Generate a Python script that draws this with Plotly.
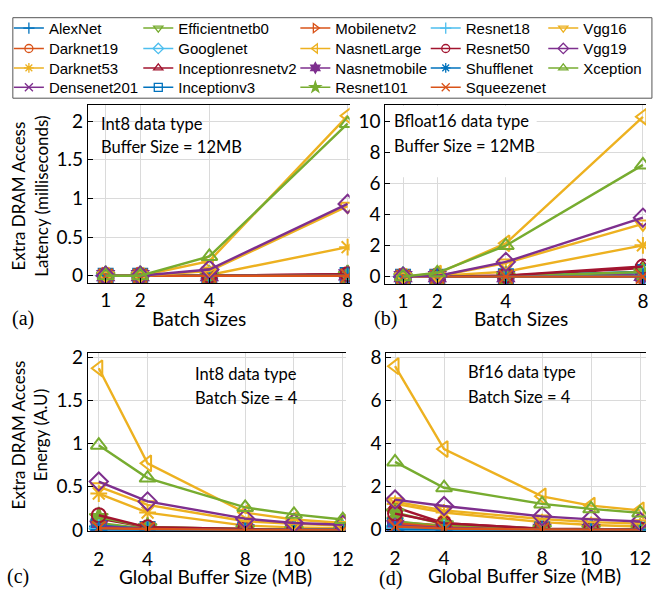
import plotly.graph_objects as go

W, H = 654, 598

models = ["AlexNet", "Darknet19", "Darknet53", "Densenet201", "Efficientnetb0", "Googlenet",
          "Inceptionresnetv2", "Inceptionv3", "Mobilenetv2", "NasnetLarge", "Nasnetmobile",
          "Resnet101", "Resnet18", "Resnet50", "Shufflenet", "Squeezenet", "Vgg16", "Vgg19", "Xception"]

colors = ["#0072BD", "#D95319", "#EDB120", "#7E2F8E", "#77AC30", "#4DBEEE", "#A2142F",
          "#0072BD", "#D95319", "#EDB120", "#7E2F8E", "#77AC30", "#4DBEEE", "#A2142F",
          "#0072BD", "#D95319", "#EDB120", "#7E2F8E", "#77AC30"]

symbols = ["cross-thin-open", "circle-open", "asterisk-open", "x-thin-open", "triangle-down-open",
           "diamond-open", "triangle-up-open", "square-open", "triangle-right-open", "triangle-left-open",
           "hexagram", "star", "cross-thin-open", "circle-open", "asterisk-open", "x-thin-open",
           "triangle-down-open", "diamond-open", "triangle-up-open"]

batch_sizes = [1, 2, 4, 8]
buffer_sizes = [2, 4, 8, 10, 12]

# (a) Int8 latency, buffer 12MB
lat_int8 = [
    [0, 0, 0, 0.01], [0, 0, 0, 0.01], [0, 0, 0.01, 0.37], [0, 0, 0, 0.01], [0, 0, 0, 0],
    [0, 0, 0, 0], [0, 0, 0, 0.02], [0, 0, 0, 0.01], [0, 0, 0, 0], [0, 0, 0.19, 2.07],
    [0, 0, 0, 0.01], [0, 0, 0, 0.01], [0, 0, 0, 0], [0, 0, 0, 0.02], [0, 0, 0, 0],
    [0, 0, 0, 0], [0, 0, 0.06, 0.9], [0, 0, 0.08, 0.93], [0, 0, 0.25, 1.97],
]
# (b) Bfloat16 latency, buffer 12MB
lat_bf16 = [
    [0, 0, 0.02, 0.3], [0, 0, 0.01, 0.1], [0, 0.05, 0.32, 2.02], [0, 0, 0.01, 0.1], [0, 0, 0, 0.05],
    [0, 0, 0, 0.05], [0, 0, 0.05, 0.55], [0, 0, 0.03, 0.3], [0, 0, 0, 0.02], [0, 0.2, 2.15, 10.3],
    [0, 0, 0.01, 0.08], [0, 0, 0.02, 0.3], [0, 0, 0, 0.02], [0, 0, 0.07, 0.65], [0, 0, 0, 0],
    [0, 0, 0, 0], [0, 0.03, 0.88, 3.4], [0, 0.04, 0.95, 3.8], [0, 0.25, 2.0, 7.2],
]
# (c) Int8 energy, batch 4
en_int8 = [
    [0.04, 0.01, 0, 0, 0], [0.06, 0.01, 0, 0, 0], [0.42, 0.2, 0.05, 0.03, 0.02], [0.05, 0.01, 0, 0, 0],
    [0.08, 0.01, 0, 0, 0], [0.02, 0, 0, 0, 0], [0.13, 0.03, 0.01, 0, 0], [0.05, 0.01, 0, 0, 0],
    [0.03, 0.01, 0, 0, 0], [1.87, 0.77, 0.2, 0.12, 0.08], [0.04, 0.01, 0, 0, 0], [0.15, 0.03, 0.01, 0, 0],
    [0.01, 0, 0, 0, 0], [0.17, 0.03, 0.01, 0, 0], [0, 0, 0, 0, 0], [0.02, 0.01, 0, 0, 0],
    [0.5, 0.29, 0.1, 0.07, 0.05], [0.56, 0.33, 0.13, 0.08, 0.06], [0.98, 0.6, 0.26, 0.18, 0.12],
]
# (d) Bf16 energy, batch 4
en_bf16 = [
    [0.15, 0.05, 0.01, 0, 0], [0.35, 0.2, 0.03, 0.01, 0], [1.2, 0.8, 0.35, 0.22, 0.15], [0.25, 0.08, 0.02, 0.01, 0],
    [0.4, 0.15, 0.02, 0.01, 0], [0.1, 0.03, 0, 0, 0], [1.05, 0.3, 0.05, 0.02, 0.01], [0.2, 0.06, 0.01, 0, 0],
    [0.3, 0.1, 0.01, 0, 0], [7.6, 3.75, 1.55, 1.12, 0.9], [0.2, 0.07, 0.01, 0, 0], [0.8, 0.25, 0.04, 0.02, 0.01],
    [0.05, 0.02, 0, 0, 0], [0.75, 0.3, 0.04, 0.02, 0.01], [0, 0, 0, 0, 0], [0.15, 0.05, 0.01, 0, 0],
    [1.3, 0.9, 0.5, 0.35, 0.28], [1.4, 1.1, 0.62, 0.48, 0.38], [3.15, 1.95, 1.2, 0.97, 0.78],
]

fig = go.Figure()

panels = [
    (batch_sizes, lat_int8, "x", "y"),
    (batch_sizes, lat_bf16, "x2", "y2"),
    (buffer_sizes, en_int8, "x3", "y3"),
    (buffer_sizes, en_bf16, "x4", "y4"),
]
for xs, data, xa, ya in panels:
    for i, name in enumerate(models):
        fig.add_trace(go.Scatter(
            x=xs, y=data[i], name=name, mode="lines+markers", xaxis=xa, yaxis=ya,
            showlegend=False,
            line=dict(color=colors[i], width=2.4),
            marker=dict(symbol=symbols[i], size=14, color=colors[i], line=dict(width=2, color=colors[i])),
        ))

def px_x(p):
    return p / W

def px_y(p):
    return 1 - p / H

# legend: one small legend per entry, laid out in 5 columns x 4 rows
col_text_x = [49, 180, 339, 471, 590]
row_y = [21, 42, 62, 82]
legend_font = dict(family="Liberation Sans, Arial", size=15, color="black")
for i, name in enumerate(models):
    lid = "legend" if i == 0 else f"legend{i + 1}"
    col, row = i // 4, i % 4
    fig.add_trace(go.Scatter(
        x=[None], y=[None], name=name, mode="lines+markers", xaxis="x", yaxis="y",
        legend=lid, showlegend=True,
        line=dict(color=colors[i], width=1.5),
        marker=dict(symbol=symbols[i], size=8, color=colors[i], line=dict(width=1.3, color=colors[i])),
    ))
    fig.update_layout({lid: dict(
        x=px_x(col_text_x[col] - 40), y=px_y(row_y[row]), xanchor="left", yanchor="middle",
        bgcolor="rgba(0,0,0,0)", borderwidth=0, font=legend_font, tracegroupgap=0,
        itemwidth=30, orientation="v",
    )})

tick_font = dict(family="Lato", size=19, color="black")
grid = "#dadada"
common_x = dict(showline=True, linecolor="black", linewidth=1, mirror=True, ticks="inside", ticklen=5,
                tickcolor="black", showgrid=True, gridcolor=grid, gridwidth=1, zeroline=False,
                tickfont=tick_font)
common_y = dict(showline=True, linecolor="black", linewidth=1, mirror=False, ticks="inside", ticklen=5,
                tickcolor="black", showgrid=True, gridcolor=grid, gridwidth=1, zeroline=False,
                tickfont=tick_font)

fig.update_layout(
    width=W, height=H, margin=dict(l=0, r=0, t=0, b=0),
    paper_bgcolor="white", plot_bgcolor="white",
    xaxis=dict(common_x, domain=[px_x(89), px_x(354)], range=[0.486, 8.06], tickvals=batch_sizes,
               anchor="y"),
    yaxis=dict(common_y, domain=[px_y(284), px_y(100)], range=[-0.1, 2.21], tickvals=[0, 0.5, 1, 1.5, 2],
               ticktext=["0", "0.5", "1", "1.5", "2"], anchor="x"),
    xaxis2=dict(common_x, domain=[px_x(390), 1.0], range=[0.48, 8.09], tickvals=batch_sizes, anchor="y2"),
    yaxis2=dict(common_y, domain=[px_y(285), px_y(100)], range=[-0.5, 11.06], tickvals=[0, 2, 4, 6, 8, 10],
                anchor="x2"),
    xaxis3=dict(common_x, domain=[px_x(89), px_x(350)], range=[1.555, 12.12], tickvals=buffer_sizes,
                anchor="y3", ticklabelstandoff=11),
    yaxis3=dict(common_y, domain=[px_y(539), px_y(356)], range=[-0.01, 2.044], tickvals=[0, 0.5, 1, 1.5, 2],
                ticktext=["0", "0.5", "1", "1.5", "2"], anchor="x3"),
    xaxis4=dict(common_x, domain=[px_x(391), 1.0], range=[1.64, 12.24], tickvals=buffer_sizes,
                anchor="y4", ticklabelstandoff=10),
    yaxis4=dict(common_y, domain=[px_y(539), px_y(356)], range=[-0.05, 8.2], tickvals=[0, 2, 4, 6, 8],
                anchor="x4"),
)

# legend box and white text box in panel (b)
fig.add_shape(type="rect", xref="paper", yref="paper", x0=px_x(13), x1=px_x(660), y0=px_y(93), y1=px_y(10),
              line=dict(color="#555555", width=1), fillcolor="rgba(0,0,0,0)", layer="above")
fig.add_shape(type="rect", xref="x2", yref="y2", x0=0.49, x1=4.9, y0=6.4, y1=11.0,
              line=dict(width=0), fillcolor="white", layer="between")

ann_font = dict(family="Lato", size=16.5, color="black")
label_font = dict(family="Lato", size=19, color="black")
panel_font = dict(family="Liberation Serif, Times New Roman", size=20, color="black")

def text(xp, yp, s, font, xanchor="left", angle=0):
    fig.add_annotation(x=px_x(xp), y=px_y(yp), xref="paper", yref="paper", text=s, showarrow=False,
                       font=font, xanchor=xanchor, yanchor="middle", textangle=angle)

text(100, 120, "Int8 data type", ann_font)
text(100, 143, "Buffer Size = 12MB", ann_font)
text(397, 117, "Bfloat16 data type", ann_font)
text(397, 142, "Buffer Size = 12MB", ann_font)
text(195, 377, "Int8 data type", ann_font)
text(195, 402, "Batch Size = 4", ann_font)
text(472, 375, "Bf16 data type", ann_font)
text(472, 401, "Batch Size = 4", ann_font)

text(201, 320, "Batch Sizes", label_font, "center")
text(527, 320, "Batch Sizes", label_font, "center")
text(218, 586, "Global Buffer Size (MB)", label_font, "center")
text(531, 585, "Global Buffer Size (MB)", label_font, "center")
text(30, 194, "Extra DRAM Access<br>Latency (milliseconds)", dict(family="Lato", size=17, color="black"),
     "center", -90)
text(30, 440, "Extra DRAM Access<br>Energy (A.U)", dict(family="Lato", size=17, color="black"),
     "center", -90)

text(23, 320, "(a)", panel_font, "center")
text(390, 320, "(b)", panel_font, "center")
text(18, 586, "(c)", panel_font, "center")
text(395, 588, "(d)", panel_font, "center")

fig.write_html("out.html")
